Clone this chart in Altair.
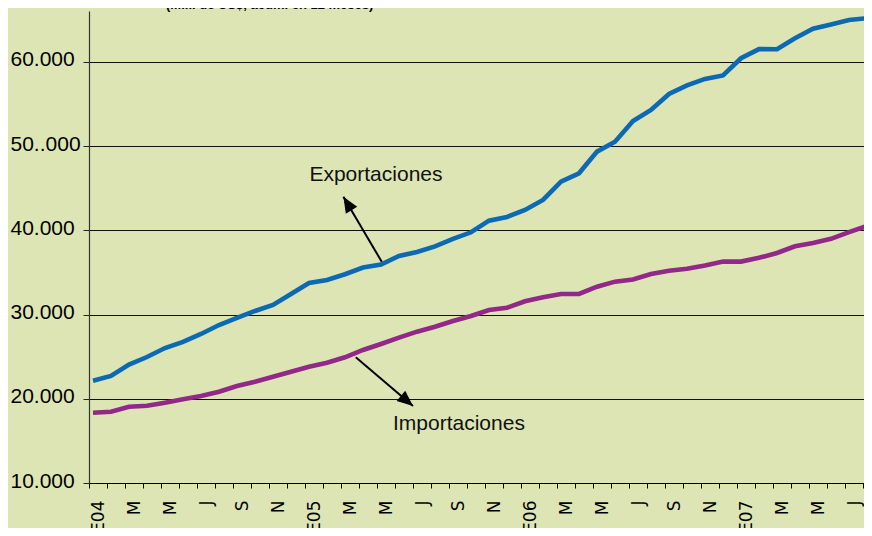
import json
import altair as alt
import pandas as pd

# ---- data -------------------------------------------------------------
months = list(range(44))  # Jan 2004 .. Aug 2007
x_labels = ["E04", "", "M", "", "M", "", "J", "", "S", "", "N", "",
            "E05", "", "M", "", "M", "", "J", "", "S", "", "N", "",
            "E06", "", "M", "", "M", "", "J", "", "S", "", "N", "",
            "E07", "", "M", "", "M", "", "J", ""]
exports = [22150, 22710, 24070, 24960, 26030, 26750, 27700, 28760, 29600, 30430, 31140, 32450,
           33750, 34110, 34790, 35590, 35950, 36960, 37430, 38090, 38980, 39770, 41150, 41590,
           42420, 43610, 45780, 46780, 49350, 50530, 52990, 54300, 56200, 57210, 57980, 58400,
           60440, 61520, 61510, 62810, 63940, 64450, 64990, 65200]
imports = [18350, 18470, 19060, 19180, 19540, 19940, 20330, 20840, 21520, 22030, 22620, 23220,
           23810, 24290, 24930, 25800, 26510, 27260, 27970, 28560, 29240, 29830, 30550, 30810,
           31580, 32050, 32450, 32450, 33310, 33910, 34160, 34820, 35200, 35440, 35830, 36290,
           36290, 36740, 37310, 38110, 38500, 39000, 39790, 40520]
series_names = ["Exportaciones", "Importaciones"]
series_colors = ["#0c69b4", "#922888"]

y_ticks = [10000, 20000, 30000, 40000, 50000, 60000]
y_labels = ["10.000", "20.000", "30.000", "40.000", "50..000", "60.000"]

title_text = "(Mill. de US$, acum. en 12 meses)"

ann_text = ["Exportaciones", "Importaciones"]
ann_x = [15.72, 20.33]
ann_y = [46580, 17010]
arrow_from_x = [16.04, 14.6]
arrow_from_y = [36280, 24930]
arrow_to_x = [13.91, 17.78]
arrow_to_y = [44000, 19145]
arrow_angle = [329, 130]

# ---- frames -----------------------------------------------------------
lines_df = pd.DataFrame({
    "x": months * 2,
    "y": exports + imports,
    "serie": [series_names[0]] * len(months) + [series_names[1]] * len(months),
})
ann_df = pd.DataFrame({"x": ann_x, "y": ann_y, "t": ann_text})
shaft_df = pd.DataFrame({"x": arrow_from_x, "y": arrow_from_y,
                         "x2": arrow_to_x, "y2": arrow_to_y})
head_df = pd.DataFrame({"x": arrow_to_x, "y": arrow_to_y, "angle": arrow_angle})

# ---- scales / axes ----------------------------------------------------
off = 4 / 18.0
x_scale = alt.Scale(domain=[-off, 775 / 18.0 - off], nice=False, zero=False)
y_scale = alt.Scale(domain=[10000, 66050], nice=False, zero=False)

label_expr_x = "%s[round(datum.value + %f)]" % (json.dumps(x_labels), off)
x_axis = alt.Axis(values=[k - off for k in months], labelExpr=label_expr_x,
                  labelAngle=270, labelOffset=9, labelPadding=12,
                  labelFont="DejaVu Sans", labelFontSize=17, labelColor="black",
                  labelOverlap=False, labelFlush=False, labelBound=False,
                  tickSize=5, tickColor="black", tickWidth=1,
                  domainColor="black", domainWidth=1.2, grid=False, title=None)
label_expr_y = "%s[indexof(%s, datum.value)]" % (json.dumps(y_labels), json.dumps(y_ticks))
y_axis = alt.Axis(values=y_ticks, labelExpr=label_expr_y, labelAlign="left",
                  labelBaseline="middle", labelPadding=73, labelOffset=-2,
                  labelFont="Liberation Sans", labelFontSize=21, labelColor="black",
                  labelOverlap=False, labelFlush=False, labelBound=False,
                  tickSize=6, tickColor="#222222", tickWidth=1,
                  domainColor="#333333", domainWidth=1.2,
                  grid=True, gridColor="#111111", gridWidth=1, title=None)

X = alt.X("x:Q", scale=x_scale, axis=x_axis)
Y = alt.Y("y:Q", scale=y_scale, axis=y_axis)

lines = alt.Chart(lines_df).mark_line(strokeWidth=4.6, clip=True).encode(
    x=X, y=Y,
    color=alt.Color("serie:N", scale=alt.Scale(domain=series_names, range=series_colors),
                    legend=None),
)

labels = alt.Chart(ann_df).mark_text(font="Liberation Sans", fontSize=21,
                                     color="#111111").encode(x=X, y=Y, text="t:N")

shafts = alt.Chart(shaft_df).mark_rule(strokeWidth=2, color="black").encode(
    x=X, y=Y, x2="x2:Q", y2="y2:Q")

heads = alt.Chart(head_df).mark_point(
    shape="M0,0 L0.42,1 L-0.42,1 Z", filled=True, size=1000, color="black", opacity=1
).encode(x=X, y=Y, angle=alt.Angle("angle:Q", scale=None))

chart = alt.layer(lines, shafts, heads, labels).properties(
    width=775, height=472,
    autosize=alt.AutoSizeParams(type="none"),
    padding={"left": 81, "top": 3, "right": 0, "bottom": 45},
    background="#dde5b5",
    title=alt.TitleParams(text=title_text, font="Liberation Sans", fontSize=13,
                          fontWeight="bold", color="black", anchor="start",
                          frame="group", dx=77, offset=-11, baseline="alphabetic"),
).configure_view(stroke=None)

chart.save("out.html", embed_options={"renderer": "svg", "actions": False})
